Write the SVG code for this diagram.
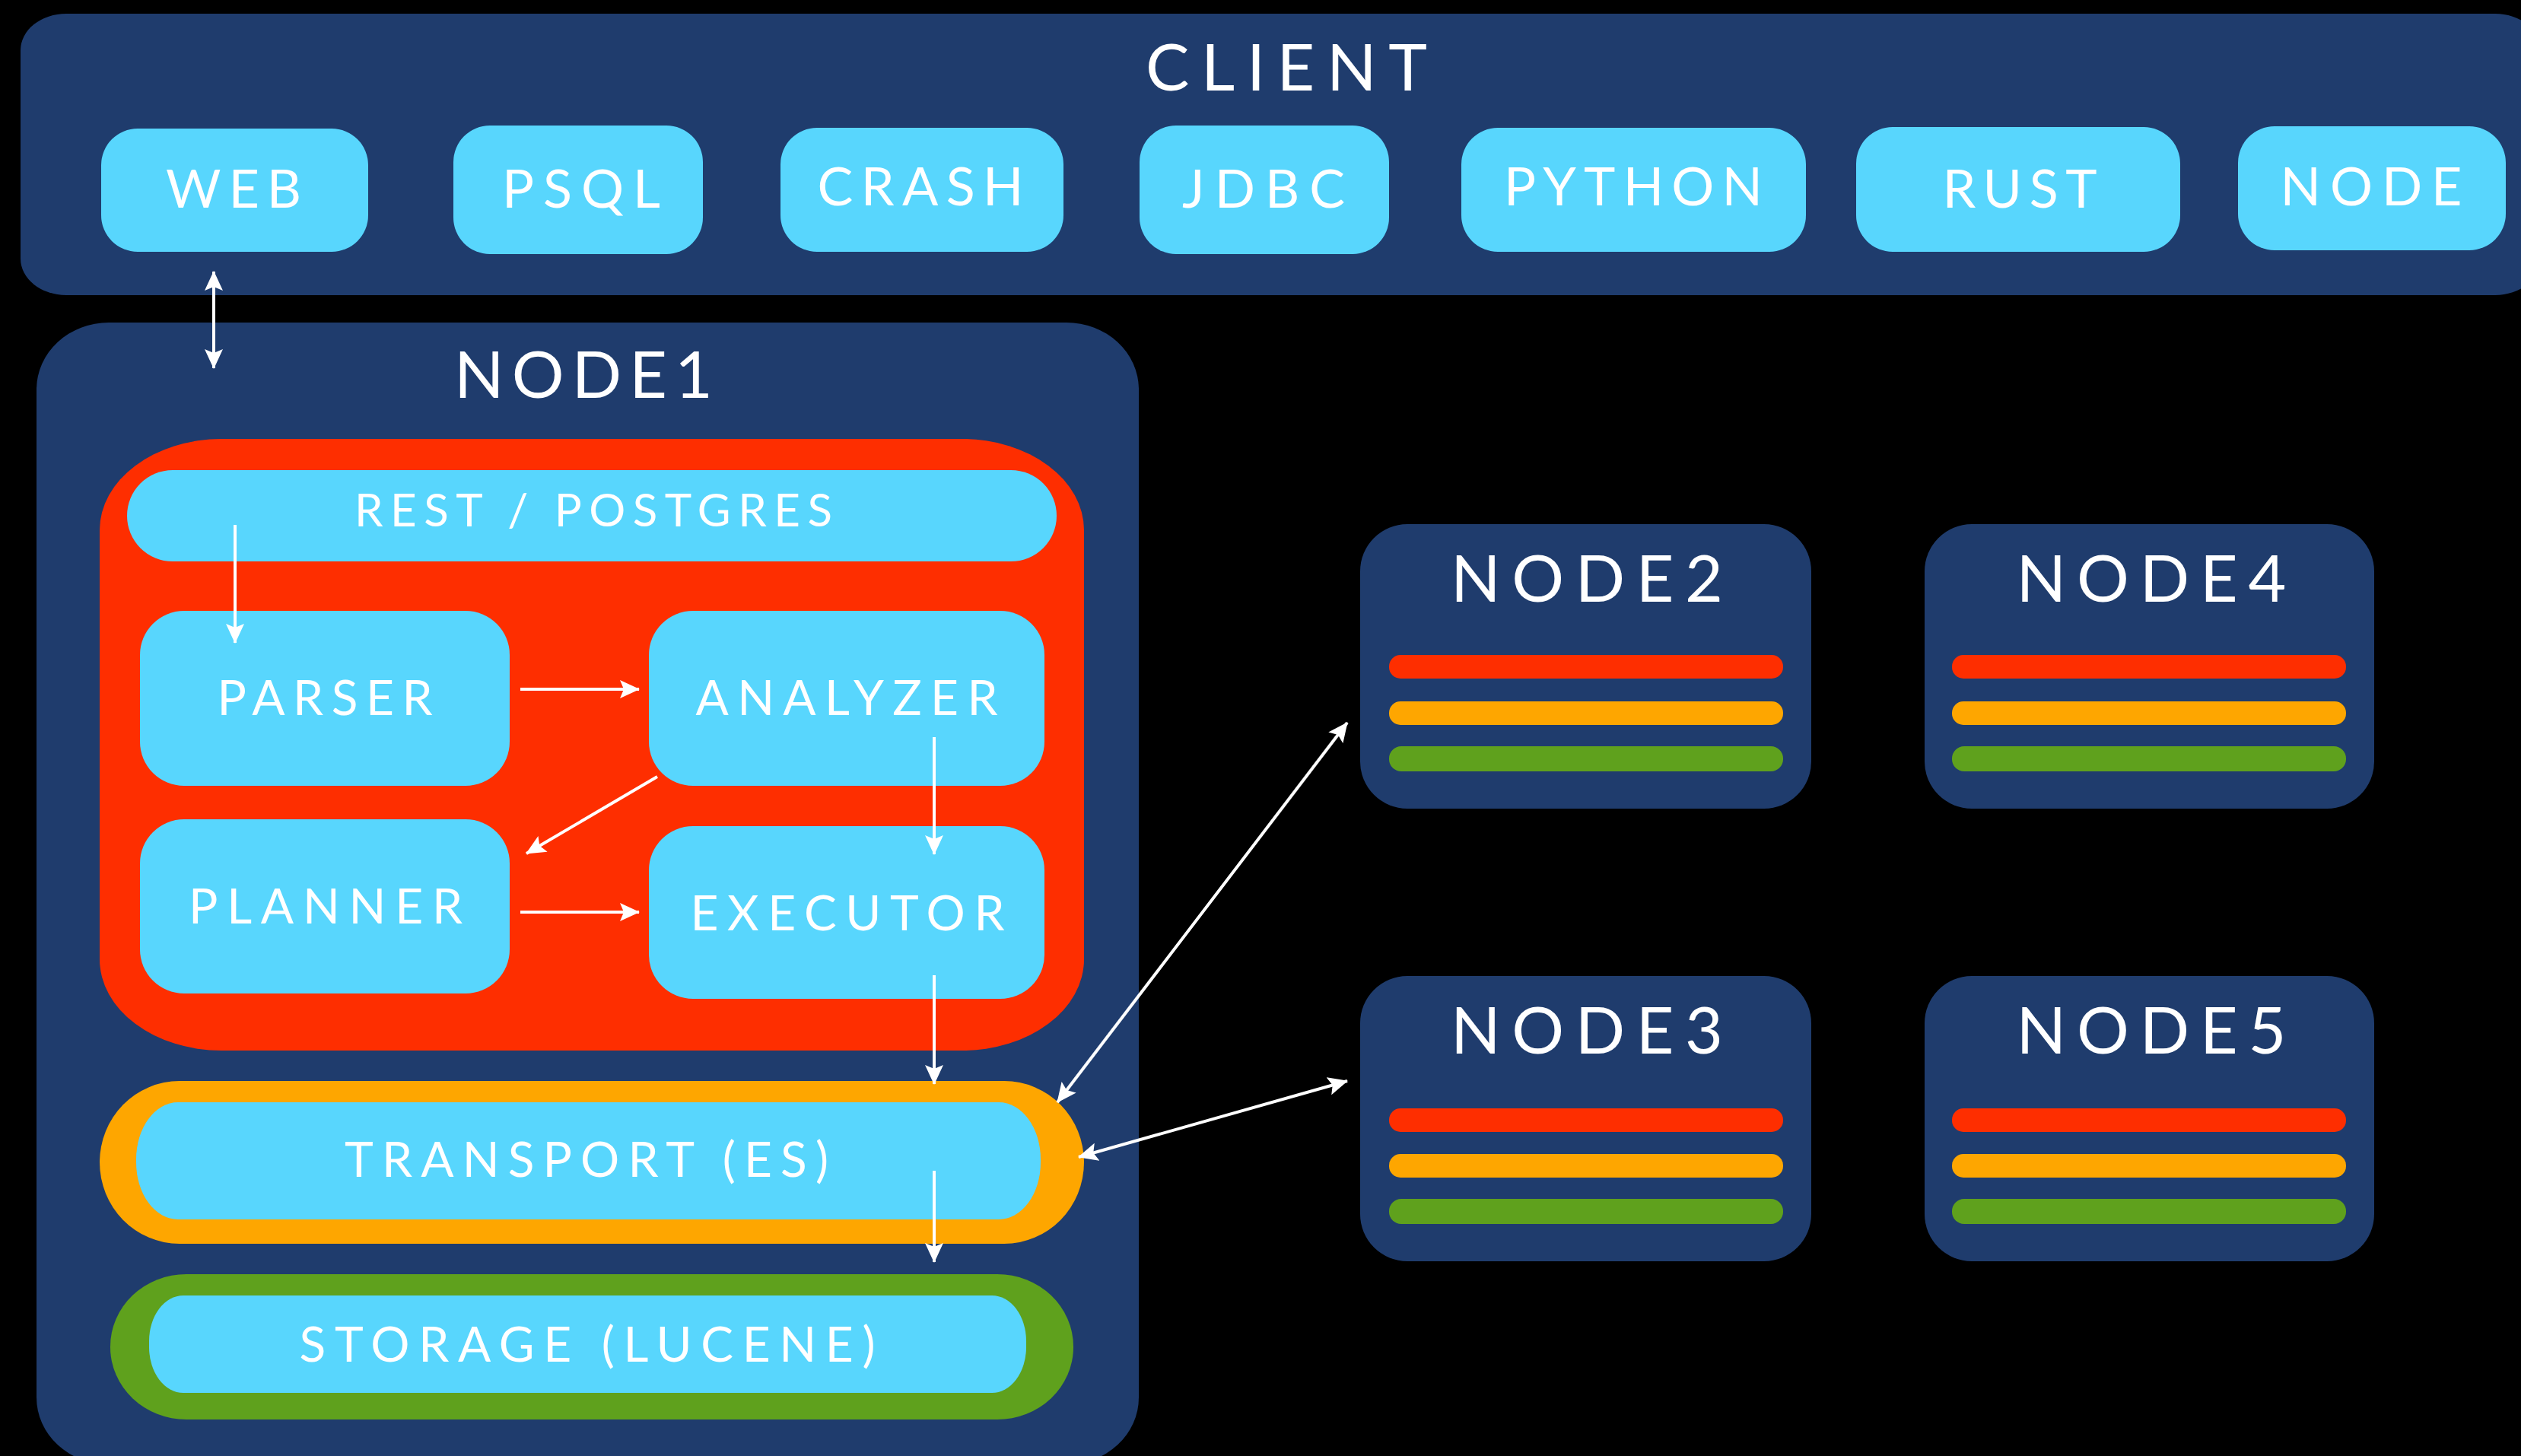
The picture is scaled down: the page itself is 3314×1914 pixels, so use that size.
<svg xmlns="http://www.w3.org/2000/svg" width="3314" height="1914" viewBox="0 0 3314 1914">
  <style>
    .panel { fill: #1f3c6d; }
    .btn { fill: #58d6fd; }
    .red { fill: #fe2e00; }
    .orange { fill: #fea600; }
    .green { fill: #5fa11d; }
    .lbl { fill: #ffffff; font-family: Lato, "Noto Sans", "Liberation Sans", sans-serif; text-anchor: middle; }
    .t86 { font-size: 86px; }
    .t70 { font-size: 70px; }
    .t64 { font-size: 64px; }
    .t60 { font-size: 60px; }
    .conn { stroke: #ffffff; stroke-width: 4; fill: none; marker-end: url(#ah); }
    .both { marker-start: url(#ah); }
  </style>
  <defs>
    <marker id="ah" markerUnits="userSpaceOnUse" viewBox="0 0 26 24" markerWidth="26" markerHeight="24" refX="25" refY="12" orient="auto-start-reverse">
      <path d="M0,0 L26,12 L0,24 L5,12 z" fill="#ffffff"/>
    </marker>
  </defs>

  <rect width="3314" height="1914" fill="#000000"/>

  <!-- client tier -->
  <g id="client">
    <rect class="panel" x="27" y="18" width="3313" height="370" rx="60" ry="48"/>
    <text class="lbl t86" x="1691" y="119" textLength="370" lengthAdjust="spacing">CLIENT</text>
  </g>
  <g id="client-web">
    <rect class="btn" x="133" y="169" width="351" height="162" rx="48"/>
    <text class="lbl t70" x="307" y="273" textLength="178" lengthAdjust="spacing">WEB</text>
  </g>
  <g id="client-psql">
    <rect class="btn" x="596" y="165" width="328" height="169" rx="48"/>
    <text class="lbl t70" x="764" y="273" textLength="208" lengthAdjust="spacing">PSQL</text>
  </g>
  <g id="client-crash">
    <rect class="btn" x="1026" y="168" width="372" height="163" rx="48"/>
    <text class="lbl t70" x="1210" y="270" textLength="271" lengthAdjust="spacing">CRASH</text>
  </g>
  <g id="client-jdbc">
    <rect class="btn" x="1498" y="165" width="328" height="169" rx="48"/>
    <text class="lbl t70" x="1661" y="273" textLength="214" lengthAdjust="spacing">JDBC</text>
  </g>
  <g id="client-python">
    <rect class="btn" x="1921" y="168" width="453" height="163" rx="48"/>
    <text class="lbl t70" x="2147" y="270" textLength="340" lengthAdjust="spacing">PYTHON</text>
  </g>
  <g id="client-rust">
    <rect class="btn" x="2440" y="167" width="426" height="164" rx="48"/>
    <text class="lbl t70" x="2655" y="273" textLength="203" lengthAdjust="spacing">RUST</text>
  </g>
  <g id="client-node">
    <rect class="btn" x="2942" y="166" width="352" height="163" rx="48"/>
    <text class="lbl t70" x="3117" y="270" textLength="239" lengthAdjust="spacing">NODE</text>
  </g>

  <!-- node 1, expanded -->
  <g id="node1">
    <rect class="panel" x="48" y="424" width="1449" height="1501" rx="95" ry="88"/>
    <text class="lbl t86" x="767" y="523" textLength="340" lengthAdjust="spacing">NODE1</text>
  </g>
  <g id="sql-layer">
    <rect class="red" x="131" y="577" width="1294" height="804" rx="160" ry="120"/>
  </g>
  <g id="rest-postgres">
    <rect class="btn" x="167" y="618" width="1222" height="120" rx="60"/>
    <text class="lbl t60" x="780" y="692" textLength="628" lengthAdjust="spacing">REST / POSTGRES</text>
  </g>
  <g id="parser">
    <rect class="btn" x="184" y="803" width="486" height="230" rx="58"/>
    <text class="lbl t64" x="427" y="940" textLength="283" lengthAdjust="spacing">PARSER</text>
  </g>
  <g id="analyzer">
    <rect class="btn" x="853" y="803" width="520" height="230" rx="58"/>
    <text class="lbl t64" x="1113" y="940" textLength="397" lengthAdjust="spacing">ANALYZER</text>
  </g>
  <g id="planner">
    <rect class="btn" x="184" y="1077" width="486" height="229" rx="58"/>
    <text class="lbl t64" x="428" y="1214" textLength="360" lengthAdjust="spacing">PLANNER</text>
  </g>
  <g id="executor">
    <rect class="btn" x="853" y="1086" width="520" height="227" rx="58"/>
    <text class="lbl t64" x="1114" y="1223" textLength="413" lengthAdjust="spacing">EXECUTOR</text>
  </g>
  <g id="transport">
    <rect class="orange" x="131" y="1421" width="1294" height="214" rx="105" ry="107"/>
    <rect class="btn" x="179" y="1449" width="1189" height="154" rx="55" ry="75"/>
    <text class="lbl t64" x="771" y="1547" textLength="636" lengthAdjust="spacing">TRANSPORT (ES)</text>
  </g>
  <g id="storage">
    <rect class="green" x="145" y="1675" width="1266" height="191" rx="100" ry="95"/>
    <rect class="btn" x="196" y="1703" width="1153" height="128" rx="45" ry="60"/>
    <text class="lbl t64" x="772" y="1790" textLength="757" lengthAdjust="spacing">STORAGE (LUCENE)</text>
  </g>

  <!-- peer nodes -->
  <g id="node2">
    <rect class="panel" x="1788" y="689" width="593" height="374" rx="62"/>
    <text class="lbl t86" x="2086" y="791" textLength="358" lengthAdjust="spacing">NODE2</text>
    <rect class="red" x="1826" y="861" width="518" height="31" rx="15"/>
    <rect class="orange" x="1826" y="922" width="518" height="31" rx="15"/>
    <rect class="green" x="1826" y="981" width="518" height="33" rx="16"/>
  </g>
  <g id="node4">
    <rect class="panel" x="2530" y="689" width="591" height="374" rx="62"/>
    <text class="lbl t86" x="2828" y="791" textLength="355" lengthAdjust="spacing">NODE4</text>
    <rect class="red" x="2566" y="861" width="518" height="31" rx="15"/>
    <rect class="orange" x="2566" y="922" width="518" height="31" rx="15"/>
    <rect class="green" x="2566" y="981" width="518" height="33" rx="16"/>
  </g>
  <g id="node3">
    <rect class="panel" x="1788" y="1283" width="593" height="375" rx="62"/>
    <text class="lbl t86" x="2086" y="1385" textLength="358" lengthAdjust="spacing">NODE3</text>
    <rect class="red" x="1826" y="1457" width="518" height="31" rx="15"/>
    <rect class="orange" x="1826" y="1517" width="518" height="31" rx="15"/>
    <rect class="green" x="1826" y="1576" width="518" height="33" rx="16"/>
  </g>
  <g id="node5">
    <rect class="panel" x="2530" y="1283" width="591" height="375" rx="62"/>
    <text class="lbl t86" x="2828" y="1385" textLength="355" lengthAdjust="spacing">NODE5</text>
    <rect class="red" x="2566" y="1457" width="518" height="31" rx="15"/>
    <rect class="orange" x="2566" y="1517" width="518" height="31" rx="15"/>
    <rect class="green" x="2566" y="1576" width="518" height="33" rx="16"/>
  </g>

  <!-- connectors -->
  <g id="connectors">
    <line class="conn both" x1="281" y1="357" x2="281" y2="484"/>
    <line class="conn" x1="309" y1="690" x2="309" y2="845"/>
    <line class="conn" x1="684" y1="906" x2="840" y2="906"/>
    <line class="conn" x1="864" y1="1021" x2="692" y2="1122"/>
    <line class="conn" x1="1228" y1="969" x2="1228" y2="1123"/>
    <line class="conn" x1="684" y1="1199" x2="840" y2="1199"/>
    <line class="conn" x1="1228" y1="1282" x2="1228" y2="1425"/>
    <line class="conn" x1="1228" y1="1539" x2="1228" y2="1659"/>
    <line class="conn both" x1="1390" y1="1449" x2="1771" y2="950"/>
    <line class="conn both" x1="1418" y1="1521" x2="1771" y2="1421"/>
  </g>
</svg>
